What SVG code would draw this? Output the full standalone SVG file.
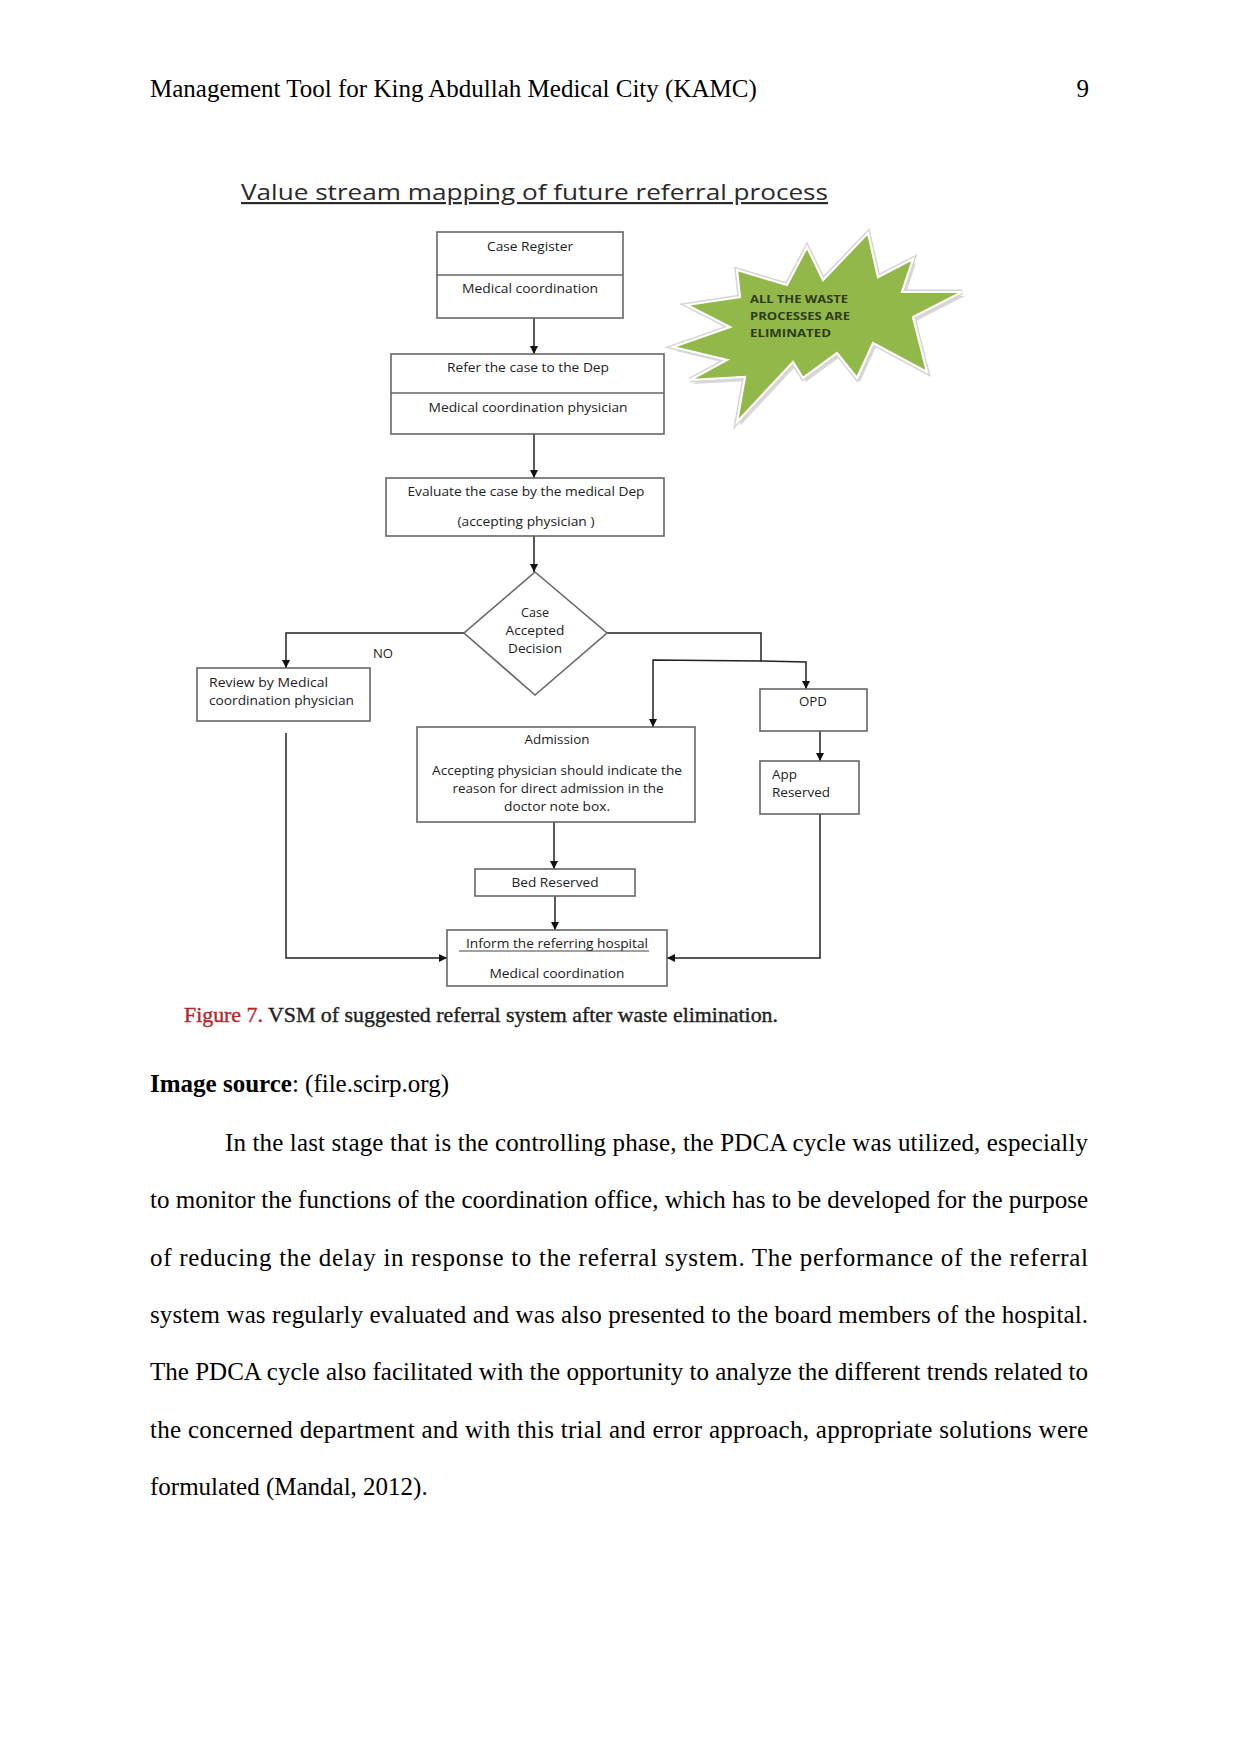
<svg xmlns="http://www.w3.org/2000/svg" width="1241" height="1754" viewBox="0 0 1241 1754">
<defs>
<style>
.page{font-family:"Liberation Serif","Times New Roman",serif;font-size:25px;fill:#000}
.dt{font-family:"Open Sans","Liberation Sans",sans-serif;font-size:13px;fill:#222}
.box{fill:#fff;stroke:#666;stroke-width:1.6}
.div{stroke:#666;stroke-width:1.4}
.con{fill:none;stroke:#222;stroke-width:1.5}
.arr{marker-end:url(#ah)}
.star{font-family:"Open Sans","Liberation Sans",sans-serif;font-size:11px;font-weight:bold;fill:#2e3a1c}
</style>
<marker id="ah" viewBox="0 0 10 10" refX="10" refY="5" markerWidth="8" markerHeight="8" markerUnits="userSpaceOnUse" orient="auto">
<path d="M0,0 L10,5 L0,10 z" fill="#111"/>
</marker>
</defs>
<rect width="1241" height="1754" fill="#fff"/>

<!-- page header -->
<text class="page" x="150" y="97">Management Tool for King Abdullah Medical City (KAMC)</text>
<text class="page" x="1089" y="97" text-anchor="end">9</text>

<!-- figure title -->
<text x="241" y="200" font-family="'Open Sans','Liberation Sans',sans-serif" font-size="22" fill="#2a2a2a" text-decoration="underline" textLength="587" lengthAdjust="spacingAndGlyphs">Value stream mapping of future referral process</text>

<!-- connectors -->
<g id="connectors">
<path class="con arr" d="M534,318 V354"/>
<path class="con arr" d="M534,434 V478"/>
<path class="con arr" d="M534,536 V572"/>
<path class="con arr" d="M464,633 H286 V668"/>
<path class="con arr" d="M607,633 H761 V661 L806,662 V689"/>
<path class="con arr" d="M761,661 L653,660 V727"/>
<path class="con arr" d="M820,731 V761"/>
<path class="con arr" d="M554,822 V869"/>
<path class="con arr" d="M555,896 V930"/>
<path class="con arr" d="M286,733 V958 H447"/>
<path class="con arr" d="M820,814 V958 H667"/>
</g>

<!-- star -->
<g id="star">
<polygon points="868,233 878,277 913,259 902,292 962,292 913,317 927,372 873,343 857,378 837,353 803,378 793,362 737,422 745,377 690,380 727,360 673,347 730,327 687,305 740,297 737,270 787,285 807,247 823,280" transform="translate(3,4)" fill="#c8c8c8" opacity="0.7"/>
<polygon points="868,233 878,277 913,259 902,292 962,292 913,317 927,372 873,343 857,378 837,353 803,378 793,362 737,422 745,377 690,380 727,360 673,347 730,327 687,305 740,297 737,270 787,285 807,247 823,280" fill="#93b84a" stroke="#d4d4d4" stroke-width="5" stroke-linejoin="miter"/>
<polygon points="868,233 878,277 913,259 902,292 962,292 913,317 927,372 873,343 857,378 837,353 803,378 793,362 737,422 745,377 690,380 727,360 673,347 730,327 687,305 740,297 737,270 787,285 807,247 823,280" fill="#93b84a" stroke="#fff" stroke-width="2.2"/>
<text class="star" x="750" y="303" textLength="98" lengthAdjust="spacingAndGlyphs">ALL THE WASTE</text>
<text class="star" x="750" y="320" textLength="100" lengthAdjust="spacingAndGlyphs">PROCESSES ARE</text>
<text class="star" x="750" y="337" textLength="81" lengthAdjust="spacingAndGlyphs">ELIMINATED</text>
</g>

<g id="case-register">
<rect class="box" x="437" y="232" width="186" height="86"/>
<line class="div" x1="437" y1="275" x2="623" y2="275"/>
<text class="dt" x="530" y="251" text-anchor="middle" textLength="86" lengthAdjust="spacingAndGlyphs">Case Register</text>
<text class="dt" x="530" y="293" text-anchor="middle" textLength="136" lengthAdjust="spacingAndGlyphs">Medical coordination</text>
</g>

<g id="refer-case">
<rect class="box" x="391" y="354" width="273" height="80"/>
<line class="div" x1="391" y1="393" x2="664" y2="393"/>
<text class="dt" x="528" y="372" text-anchor="middle" textLength="162" lengthAdjust="spacingAndGlyphs">Refer the case to the Dep</text>
<text class="dt" x="528" y="412" text-anchor="middle" textLength="199" lengthAdjust="spacingAndGlyphs">Medical coordination physician</text>
</g>

<g id="evaluate-case">
<rect class="box" x="386" y="478" width="278" height="58"/>
<text class="dt" x="526" y="496" text-anchor="middle" textLength="237" lengthAdjust="spacingAndGlyphs">Evaluate the case by the medical Dep</text>
<text class="dt" x="526" y="526" text-anchor="middle" textLength="137" lengthAdjust="spacingAndGlyphs">(accepting physician )</text>
</g>

<g id="decision">
<polygon class="box" points="535,572 607,633 535,695 464,633"/>
<text class="dt" x="535" y="617" text-anchor="middle" textLength="28" lengthAdjust="spacingAndGlyphs">Case</text>
<text class="dt" x="535" y="635" text-anchor="middle" textLength="59" lengthAdjust="spacingAndGlyphs">Accepted</text>
<text class="dt" x="535" y="653" text-anchor="middle" textLength="54" lengthAdjust="spacingAndGlyphs">Decision</text>
</g>

<text class="dt" x="383" y="658" text-anchor="middle" textLength="20" lengthAdjust="spacingAndGlyphs">NO</text>

<g id="review">
<rect class="box" x="197" y="668" width="173" height="53"/>
<text class="dt" x="209" y="687" textLength="119" lengthAdjust="spacingAndGlyphs">Review by Medical</text>
<text class="dt" x="209" y="705" textLength="145" lengthAdjust="spacingAndGlyphs">coordination physician</text>
</g>

<g id="opd">
<rect class="box" x="760" y="689" width="107" height="42"/>
<text class="dt" x="813" y="706" text-anchor="middle" textLength="28" lengthAdjust="spacingAndGlyphs">OPD</text>
</g>

<g id="app-reserved">
<rect class="box" x="760" y="761" width="99" height="53"/>
<text class="dt" x="772" y="779" textLength="25" lengthAdjust="spacingAndGlyphs">App</text>
<text class="dt" x="772" y="797" textLength="58" lengthAdjust="spacingAndGlyphs">Reserved</text>
</g>

<g id="admission">
<rect class="box" x="417" y="727" width="278" height="95"/>
<text class="dt" x="557" y="744" text-anchor="middle" textLength="65" lengthAdjust="spacingAndGlyphs">Admission</text>
<text class="dt" x="557" y="775" text-anchor="middle" textLength="250" lengthAdjust="spacingAndGlyphs">Accepting physician should indicate the</text>
<text class="dt" x="558" y="793" text-anchor="middle" textLength="211" lengthAdjust="spacingAndGlyphs">reason for direct admission in the</text>
<text class="dt" x="557" y="811" text-anchor="middle" textLength="106" lengthAdjust="spacingAndGlyphs">doctor note box.</text>
</g>

<g id="bed-reserved">
<rect class="box" x="475" y="869" width="160" height="27"/>
<text class="dt" x="555" y="887" text-anchor="middle" textLength="87" lengthAdjust="spacingAndGlyphs">Bed Reserved</text>
</g>

<g id="inform">
<rect class="box" x="447" y="930" width="220" height="56"/>
<line x1="459" y1="951" x2="649" y2="951" stroke="#444" stroke-width="1.1"/>
<text class="dt" x="466" y="948" textLength="182" lengthAdjust="spacingAndGlyphs">Inform the referring hospital</text>
<text class="dt" x="557" y="978" text-anchor="middle" textLength="135" lengthAdjust="spacingAndGlyphs">Medical coordination</text>
</g>

<!-- caption -->
<text x="184" y="1022" font-family="'Liberation Serif','Times New Roman',serif" font-size="22" textLength="594" lengthAdjust="spacingAndGlyphs" stroke-width="0.4"><tspan fill="#b2282e" stroke="#b2282e">Figure 7.</tspan><tspan fill="#231f20" stroke="#231f20"> VSM of suggested referral system after waste elimination.</tspan></text>

<!-- body text -->
<text class="page" x="150" y="1092"><tspan font-weight="bold">Image source</tspan>: (file.scirp.org)</text>
<text class="page" x="225" y="1151" textLength="863" lengthAdjust="spacing">In the last stage that is the controlling phase, the PDCA cycle was utilized, especially</text>
<text class="page" x="150" y="1208" textLength="938" lengthAdjust="spacing">to monitor the functions of the coordination office, which has to be developed for the purpose</text>
<text class="page" x="150" y="1266" textLength="938" lengthAdjust="spacing">of reducing the delay in response to the referral system. The performance of the referral</text>
<text class="page" x="150" y="1323" textLength="938" lengthAdjust="spacing">system was regularly evaluated and was also presented to the board members of the hospital.</text>
<text class="page" x="150" y="1380" textLength="938" lengthAdjust="spacing">The PDCA cycle also facilitated with the opportunity to analyze the different trends related to</text>
<text class="page" x="150" y="1438" textLength="938" lengthAdjust="spacing">the concerned department and with this trial and error approach, appropriate solutions were</text>
<text class="page" x="150" y="1495">formulated (Mandal, 2012).</text>
</svg>
